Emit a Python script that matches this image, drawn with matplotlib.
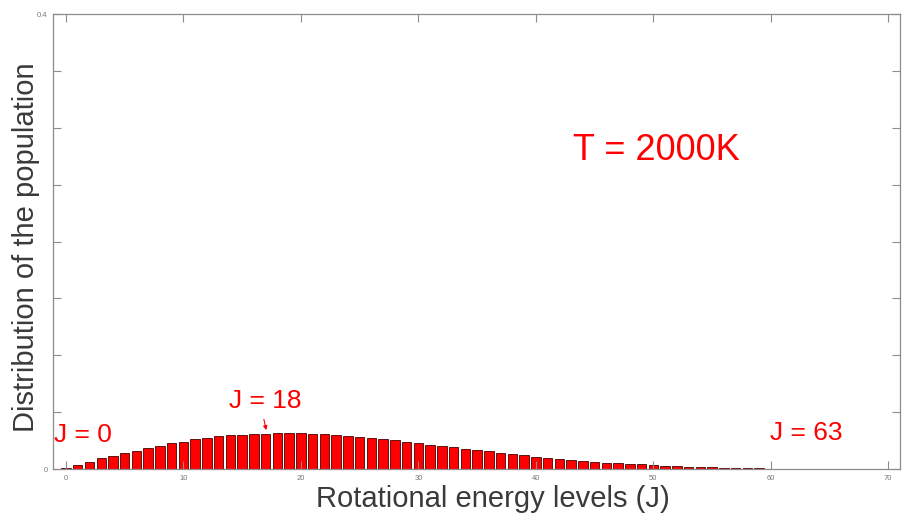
import numpy as np
import matplotlib
matplotlib.use("Agg")
import matplotlib.pyplot as plt

plt.rcParams['font.family'] = ['Liberation Sans', 'DejaVu Sans']

# rotational levels J = 0..64 and their population share at T = 2000 K
levels = np.arange(65)
population = [
    0.0011, 0.0035, 0.0062, 0.0097, 0.0114, 0.0141, 0.0161, 0.0187, 0.0205, 0.0226,
    0.0240, 0.0261, 0.0272, 0.0287, 0.0296, 0.0302, 0.0305, 0.0310, 0.0314, 0.0314,
    0.0314, 0.0310, 0.0305, 0.0299, 0.0290, 0.0284, 0.0272, 0.0264, 0.0255, 0.0240,
    0.0229, 0.0214, 0.0205, 0.0191, 0.0178, 0.0169, 0.0156, 0.0141, 0.0129, 0.0120,
    0.0105, 0.0099, 0.0091, 0.0082, 0.0072, 0.0064, 0.0055, 0.0050, 0.0044, 0.0041,
    0.0035, 0.0029, 0.0024, 0.0020, 0.0018, 0.0015, 0.0011, 0.0010, 0.0008, 0.0006,
    0.0004, 0.0004, 0.0003, 0.0002, 0.0001,
]

x_ticks = [0, 10, 20, 30, 40, 50, 60, 70]
y_ticks = np.arange(0, 0.401, 0.05)
y_ticklabels = ['0', '', '', '', '', '', '', '', '0.4']

fig = plt.figure(figsize=(9.02, 5.17), dpi=100)
ax = fig.add_axes([0.0588, 0.0928, 0.939, 0.880])

ax.bar(levels, population, width=0.8, color='#ff0000', edgecolor='#4a0000', linewidth=0.6)

ax.set_xlim(-1.1, 71)
ax.set_ylim(0, 0.4)
ax.set_xticks(x_ticks)
ax.set_yticks(y_ticks)
ax.set_yticklabels(y_ticklabels)

grey = '#8c8c8c'
for s in ax.spines.values():
    s.set_color(grey)
    s.set_linewidth(0.9)
ax.tick_params(direction='in', length=5.5, width=0.8, colors=grey, labelsize=5.5,
               top=True, right=True, pad=4, labelcolor='#777777')

ax.set_xlabel('Rotational energy levels (J)', fontsize=21, color='#3a3a3a')
ax.set_ylabel('Distribution of the population', fontsize=21, color='#3a3a3a')
ax.xaxis.set_label_coords(0.519, -0.036)
ax.yaxis.set_label_coords(-0.015, 0.488)

ax.text(50.3, 0.280, 'T = 2000K', color='#ff0000', fontsize=26, ha='center', va='center')
ax.text(-1.0, 0.030, 'J = 0', color='#ff0000', fontsize=19, ha='left', va='center')
ax.text(17.0, 0.060, 'J = 18', color='#ff0000', fontsize=19, ha='center', va='center')
ax.text(63.0, 0.0316, 'J = 63', color='#ff0000', fontsize=19, ha='center', va='center')
ax.annotate('', xy=(17.1, 0.0318), xytext=(16.8, 0.046),
            arrowprops=dict(arrowstyle='-|>', color='#ff0000', lw=0.8, mutation_scale=6))

fig.savefig('out.png', dpi=100)
